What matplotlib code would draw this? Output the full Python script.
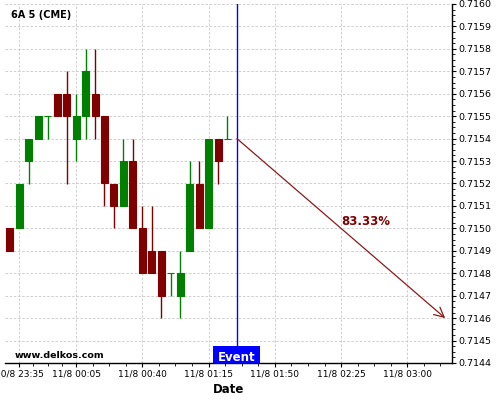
import numpy as np
import pandas as pd
import matplotlib
matplotlib.use("Agg")
import matplotlib.pyplot as plt
import matplotlib.dates as mdates
import matplotlib.transforms as mtransforms
from matplotlib.ticker import MultipleLocator, AutoMinorLocator, FormatStrFormatter, FixedLocator, FuncFormatter

# 5 minute candles, 6A (CME)
times = [
    "2017-08-10 23:30", "2017-08-10 23:35", "2017-08-10 23:40", "2017-08-10 23:45",
    "2017-08-10 23:50", "2017-08-10 23:55", "2017-08-11 00:00", "2017-08-11 00:05",
    "2017-08-11 00:10", "2017-08-11 00:15", "2017-08-11 00:20", "2017-08-11 00:25",
    "2017-08-11 00:30", "2017-08-11 00:35", "2017-08-11 00:40", "2017-08-11 00:45",
    "2017-08-11 00:50", "2017-08-11 00:55", "2017-08-11 01:00", "2017-08-11 01:05",
    "2017-08-11 01:10", "2017-08-11 01:15", "2017-08-11 01:20", "2017-08-11 01:25",
]
opens = [0.7150, 0.7150, 0.7153, 0.7154, 0.7155, 0.7156, 0.7156, 0.7154,
         0.7155, 0.7156, 0.7155, 0.7152, 0.7151, 0.7153, 0.7150, 0.7149,
         0.7149, 0.7148, 0.7147, 0.7149, 0.7152, 0.7150, 0.7154, 0.7154]
highs = [0.7150, 0.7152, 0.7154, 0.7155, 0.7155, 0.7156, 0.7157, 0.7156,
         0.7158, 0.7158, 0.7155, 0.7152, 0.7154, 0.7154, 0.7151, 0.7151,
         0.7149, 0.7148, 0.7149, 0.7153, 0.7153, 0.7154, 0.7154, 0.7155]
lows = [0.7149, 0.7150, 0.7152, 0.7154, 0.7154, 0.7155, 0.7152, 0.7153,
        0.7154, 0.7154, 0.7151, 0.7150, 0.7151, 0.7150, 0.7148, 0.7148,
        0.7146, 0.7147, 0.7146, 0.7149, 0.7150, 0.7150, 0.7152, 0.7154]
closes = [0.7149, 0.7152, 0.7154, 0.7155, 0.7155, 0.7155, 0.7155, 0.7155,
          0.7157, 0.7155, 0.7152, 0.7151, 0.7153, 0.7150, 0.7148, 0.7148,
          0.7147, 0.7148, 0.7148, 0.7152, 0.7150, 0.7154, 0.7153, 0.7154]

# forecast arrow after the event
event_time = "2017-08-11 01:30"
arrow_start = 0.7154
arrow_end_time = "2017-08-11 03:20"
arrow_end = 0.7146
prob_label = "83.33%"

tick_times = ["2017-08-10 23:35", "2017-08-11 00:05", "2017-08-11 00:40",
              "2017-08-11 01:15", "2017-08-11 01:50", "2017-08-11 02:25",
              "2017-08-11 03:00"]
x_range = ["2017-08-10 23:27:27", "2017-08-11 03:23:27"]

GREEN = "#008000"
RED = "#800000"
ARROW = "#8b1a1a"

t = mdates.date2num(pd.to_datetime(times))
o = np.array(opens)
h = np.array(highs)
l = np.array(lows)
c = np.array(closes)
up = c >= o
colors = np.where(up, GREEN, RED)

fig = plt.figure(figsize=(5, 4), dpi=100)
ax = fig.add_axes([0.01, 0.0925, 0.8934, 0.8975])

ax.grid(True, which="major", color="#c8c8c8", linestyle=(0, (3, 2)), linewidth=0.6)
ax.set_axisbelow(True)

body_w = 3.7 / 1440
ax.vlines(t, l, h, colors=colors, linewidth=1, zorder=2)
ax.bar(t, c - o, bottom=o, width=body_w, color=colors, edgecolor=colors,
       linewidth=0.8, zorder=3)

ev = mdates.date2num(pd.Timestamp(event_time))
ev_end = mdates.date2num(pd.Timestamp(arrow_end_time))
ax.axvline(ev, color="#0000ff", linewidth=1, zorder=4)

ax.annotate("", xy=(ev_end, arrow_end), xytext=(ev, arrow_start),
            arrowprops=dict(arrowstyle="->,head_length=0.7,head_width=0.35",
                            color=ARROW, lw=0.9, shrinkA=0, shrinkB=0), zorder=4)
ax.text((ev + ev_end) / 2, (arrow_start + arrow_end) / 2, prob_label,
        color=RED, fontsize=8.5, fontweight="bold", ha="left", va="bottom")

trans = mtransforms.blended_transform_factory(ax.transData, ax.transAxes)
ax.text(ev, 0.0064, "Event", transform=trans, ha="center", va="baseline",
        color="white", fontsize=8.5, fontweight="bold", clip_on=True, zorder=5,
        bbox=dict(boxstyle="square,pad=0.4", fc="#0000ff", ec="none"))

ax.text(0.0128, 0.968, "6A 5 (CME)", transform=ax.transAxes, fontsize=7,
        fontweight="bold", ha="left", va="center")
ax.text(0.0224, 0.0153, "www.delkos.com", transform=ax.transAxes, fontsize=6.8,
        fontweight="bold", ha="left", va="baseline")

ax.set_xlim(mdates.date2num(pd.to_datetime(x_range)))
ax.set_ylim(0.7144, 0.7160)

# x ticks
major = mdates.date2num(pd.to_datetime(tick_times))
minor = []
for a, b in zip(major[:-1], major[1:]):
    minor.extend(np.linspace(a, b, 5)[1:-1])
step = major[-1] - major[-2]
minor.extend([major[-1] + step / 4, major[-1] + step / 2])
ax.xaxis.set_major_locator(FixedLocator(major))
ax.xaxis.set_minor_locator(FixedLocator(minor))
ax.xaxis.set_major_formatter(FuncFormatter(
    lambda v, p: (lambda d: f"{d.day}/{d.month} {d:%H:%M}")(mdates.num2date(v))))
ax.tick_params(axis="x", which="major", labelsize=6.5, length=3, width=0.8, pad=2)
ax.tick_params(axis="x", which="minor", length=2, width=0.6)

# y ticks on right
ax.yaxis.tick_right()
ax.yaxis.set_major_locator(MultipleLocator(0.0001))
ax.yaxis.set_minor_locator(AutoMinorLocator(4))
ax.yaxis.set_major_formatter(FormatStrFormatter("%.4f"))
ax.tick_params(axis="y", which="major", labelsize=6.8, length=3, width=0.8, pad=1.5)
ax.tick_params(axis="y", which="minor", length=2, width=0.6)

ax.spines["left"].set_visible(False)
ax.spines["top"].set_visible(False)
ax.spines["right"].set_linewidth(1)
ax.spines["bottom"].set_linewidth(1)

ax.set_xlabel("Date", fontsize=8.5, fontweight="bold", labelpad=3)

fig.savefig("out.png", dpi=100)
